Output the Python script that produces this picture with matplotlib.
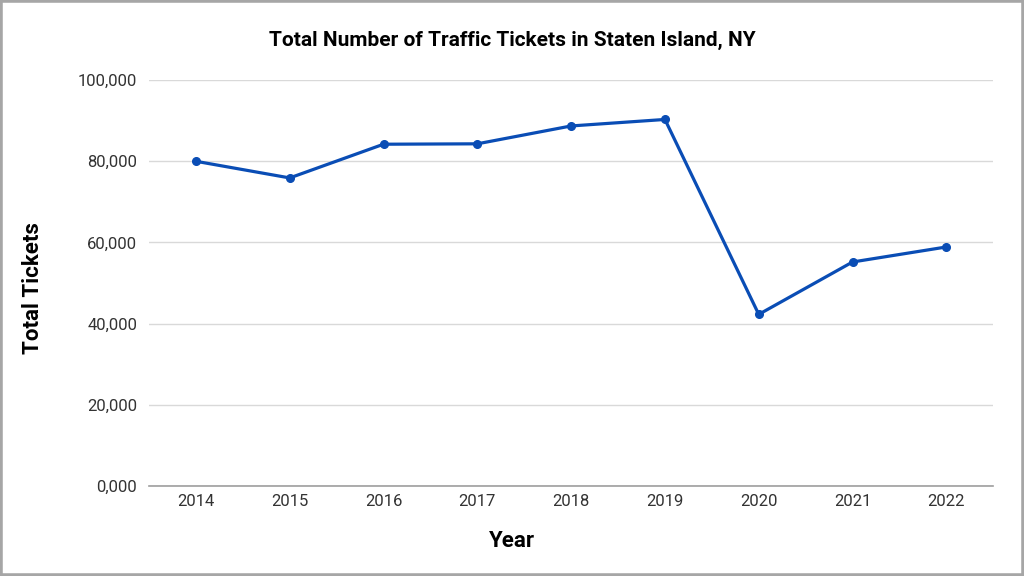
import matplotlib.pyplot as plt
from matplotlib.patches import Rectangle

years = ['2014', '2015', '2016', '2017', '2018', '2019', '2020', '2021', '2022']
tickets = [80000, 75900, 84200, 84300, 88700, 90300, 42300, 55200, 58900]
y_ticks = [0, 20000, 40000, 60000, 80000, 100000]
y_tick_labels = ['0,000', '20,000', '40,000', '60,000', '80,000', '100,000']

plt.rcParams['font.family'] = ['Roboto', 'DejaVu Sans']

fig = plt.figure(figsize=(10.24, 5.76), dpi=100)
ax = fig.add_axes([0.1455, 0.156, 0.8245, 0.705])

x = list(range(len(years)))
ax.plot(x, tickets, color='#0a4db5', linewidth=2.3, marker='o', markersize=5.5)

ax.set_xlim(-0.5, len(years) - 0.5)
ax.set_ylim(0, 100000)
ax.set_xticks(x)
ax.set_xticklabels(years)
ax.set_yticks(y_ticks)
ax.set_yticklabels(y_tick_labels)

ax.grid(axis='y', color='#d9d9d9', linewidth=1)
ax.set_axisbelow(True)
for side in ['top', 'right', 'left']:
    ax.spines[side].set_visible(False)
ax.spines['bottom'].set_color('#9e9e9e')
ax.spines['bottom'].set_linewidth(1.2)
ax.tick_params(axis='both', length=0, labelsize=12, labelcolor='#333333')
ax.tick_params(axis='x', pad=6)
ax.tick_params(axis='y', pad=8.5)

# title and axis titles are centred on the picture, not the plot area
fig.text(0.5, 1 - 40 / 576, 'Total Number of Traffic Tickets in Staten Island, NY',
         fontsize=15, fontweight='bold', ha='center', va='center')
fig.text(0.5, 1 - 541 / 576, 'Year', fontsize=16, fontweight='bold',
         ha='center', va='center')
fig.text(33 / 1024, 1 - 288 / 576, 'Total Tickets', fontsize=16, fontweight='bold',
         ha='center', va='center', rotation=90)

# grey frame round the picture
fig.patches.append(Rectangle((0, 0), 1, 1, transform=fig.transFigure,
                             fill=False, edgecolor='#a6a6a6', linewidth=4))

fig.savefig('out.png', dpi=100)
